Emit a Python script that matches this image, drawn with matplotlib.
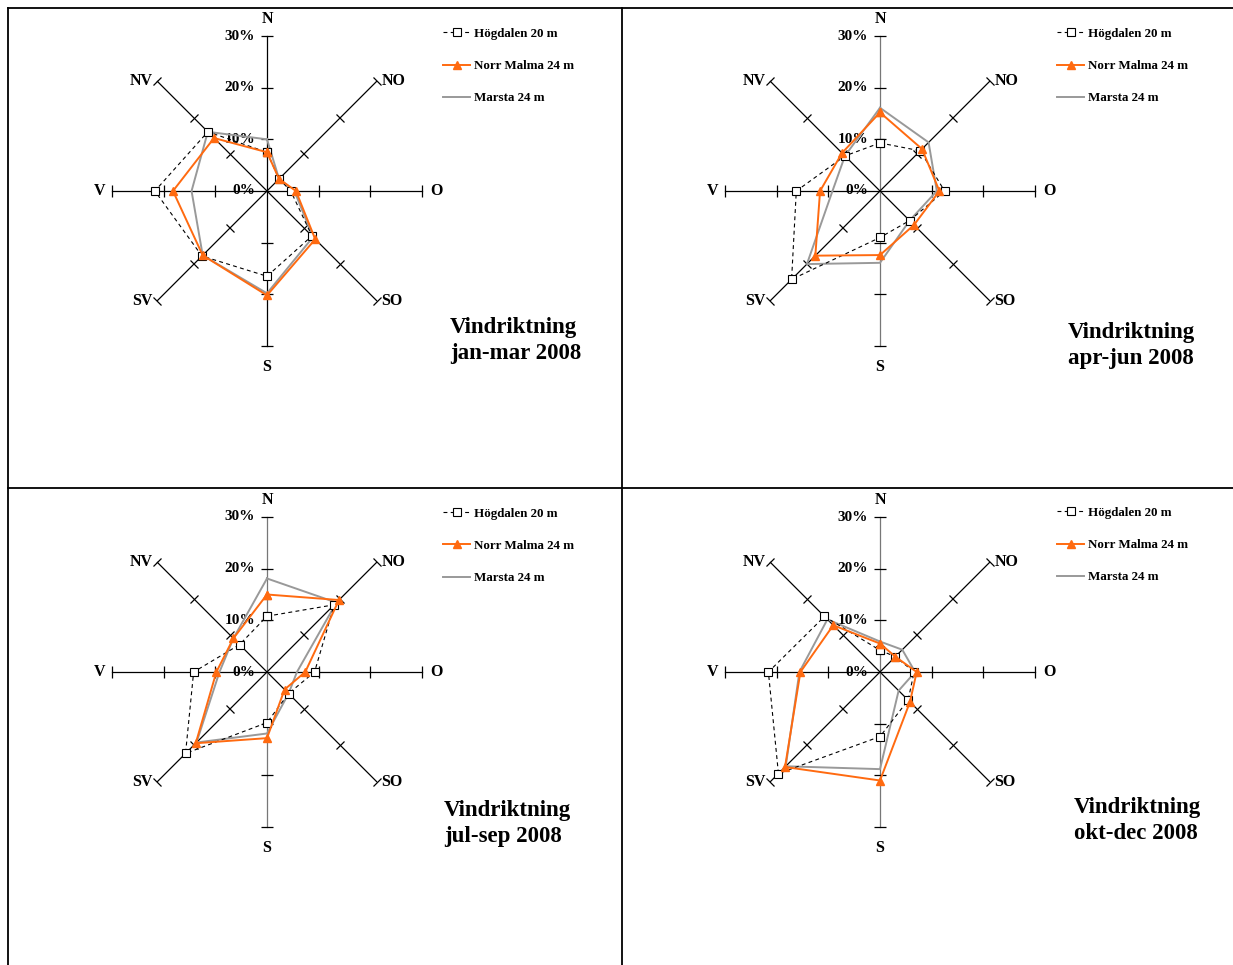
import numpy as np
import matplotlib
matplotlib.use("Agg")
import matplotlib.pyplot as plt
from matplotlib.lines import Line2D
from matplotlib.markers import MarkerStyle
from matplotlib.transforms import Affine2D

plt.rcParams["font.family"] = ["Liberation Serif", "DejaVu Serif"]
plt.rcParams["font.weight"] = "bold"

# Wind direction share (%) per sector, per quarter of 2008
directions = ["N", "NO", "O", "SO", "S", "SV", "V", "NV"]
quarters = ["jan-mar 2008", "apr-jun 2008", "jul-sep 2008", "okt-dec 2008"]
series_names = ["Högdalen 20 m", "Norr Malma 24 m", "Marsta 24 m"]

hogdalen = [
    [7.5, 3.3, 4.6, 12.3, 16.5, 17.8, 21.7, 16.2],
    [9.3, 11.0, 12.5, 8.1, 9.0, 24.2, 16.2, 9.6],
    [10.8, 18.4, 9.2, 5.9, 9.8, 22.3, 14.2, 7.5],
    [4.2, 4.2, 6.6, 7.7, 12.5, 27.8, 21.6, 15.2],
]
norr_malma = [
    [7.5, 3.3, 5.6, 13.2, 20.2, 17.6, 18.2, 14.5],
    [15.2, 11.5, 11.5, 9.3, 12.4, 17.7, 11.6, 10.4],
    [15.0, 19.7, 7.4, 4.8, 12.8, 19.5, 9.8, 9.2],
    [5.5, 4.2, 7.1, 8.2, 21.0, 26.0, 15.4, 12.8],
]
marsta = [
    [10.0, 3.3, 5.3, 12.6, 19.8, 17.6, 14.6, 16.2],
    [16.1, 13.3, 11.0, 8.1, 13.9, 20.0, 9.2, 9.6],
    [18.1, 19.0, 5.8, 5.9, 11.9, 19.3, 9.2, 9.2],
    [5.9, 6.1, 6.8, 5.1, 18.8, 25.8, 15.6, 14.4],
]
radial_ticks = [0, 10, 20, 30]

ORANGE = "#ff6a10"
GRAY = "#999999"
W, H = 1233, 965
R = 155  # pixels for 30 %

fig = plt.figure(figsize=(W / 100, H / 100), dpi=100)

# panel frame lines
for xs, ys in [((8, W), (8, 8)), ((8, W), (488, 488)),
               ((8, 8), (8, H)), ((622, 622), (8, H))]:
    fig.add_artist(Line2D([x / W for x in xs], [1 - y / H for y in ys],
                          color="black", lw=1.3))

centers = [(267, 191), (880, 191), (267, 672), (880, 672)]
legend_pos = [(443, 66), (1057, 66), (443, 546), (1057, 545)]
title_pos = [(450, 317), (1068, 322), (444, 800), (1074, 797)]

theta = np.deg2rad(np.arange(len(directions)) * 45.0)
theta_closed = np.append(theta, theta[0])


def closed(vals):
    return np.append(vals, vals[0])


label_off = {"N": (0, 17, "center"), "NO": (5, 0, "left"), "O": (8, 0, "left"),
             "SO": (5, 0, "left"), "S": (0, -21, "center"), "SV": (-5, 0, "right"),
             "V": (-7, 0, "right"), "NV": (-5, 0, "right")}

for i, (cx, cy) in enumerate(centers):
    ax = fig.add_axes([(cx - R) / W, 1 - (cy + R) / H, 2 * R / W, 2 * R / H],
                      projection="polar")
    ax.set_theta_zero_location("N")
    ax.set_theta_direction(-1)
    ax.set_ylim(0, 30)
    ax.grid(False)
    ax.set_xticks([])
    ax.set_yticks([])
    ax.spines["polar"].set_visible(False)
    ax.patch.set_visible(False)

    # spokes with perpendicular tick marks
    for k, th in enumerate(theta):
        col = "#777777" if (i > 0 and k in (0, 4)) else "black"
        ax.plot([th, th], [0, 30], color=col, lw=0.9, zorder=1, clip_on=False)
        m = MarkerStyle("_", transform=Affine2D().rotate_deg(-np.rad2deg(th)))
        ax.plot([th] * 3, radial_ticks[1:], ls="none", marker=m, ms=8,
                mew=0.9, color="black", zorder=1, clip_on=False)

    for v in radial_ticks:
        ax.annotate(f"{v}%", xy=(0, v), xytext=(-12, 0), textcoords="offset pixels",
                    ha="right", va="center", fontsize=11, zorder=0.5)

    for th, d in zip(theta, directions):
        dx, dy, ha = label_off[d]
        ax.annotate(d, xy=(th, 30), xytext=(dx, dy), textcoords="offset pixels",
                    ha=ha, va="center", fontsize=11.5, annotation_clip=False)

    l3, = ax.plot(theta_closed, closed(marsta[i]), color=GRAY, lw=1.4, zorder=3,
                  clip_on=False)
    l1, = ax.plot(theta_closed, closed(hogdalen[i]), color="black", lw=0.8,
                  ls=(0, (3.5, 3)), marker="s", ms=5.2, mfc="white", mec="black",
                  mew=0.8, zorder=4, clip_on=False)
    l2, = ax.plot(theta_closed, closed(norr_malma[i]), color=ORANGE, lw=1.4,
                  marker="^", ms=5.5, mfc=ORANGE, mec=ORANGE, zorder=5, clip_on=False)

    lx, ly = legend_pos[i]
    ax.legend([l1, l2, l3], series_names, loc="center left",
              bbox_to_anchor=(lx / W, 1 - ly / H), bbox_transform=fig.transFigure,
              frameon=False, fontsize=9.4, borderpad=0, borderaxespad=0,
              handlelength=2.1, handletextpad=0.25, labelspacing=1.55)

    tx, ty = title_pos[i]
    fig.text(tx / W, 1 - ty / H, "Vindriktning\n" + quarters[i], ha="left", va="top",
             fontsize=16.5, fontweight="bold", linespacing=1.3)

fig.savefig("out.png", dpi=100)
